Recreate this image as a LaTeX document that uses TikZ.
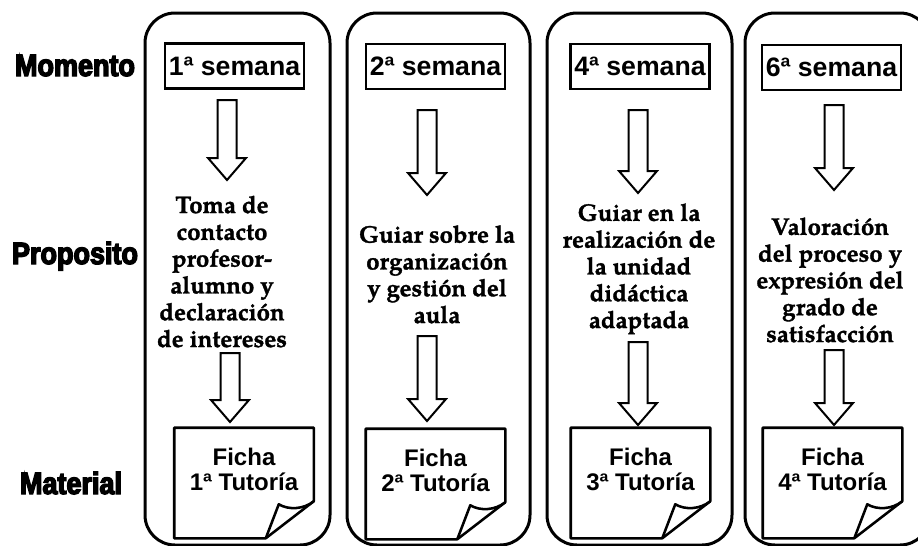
\documentclass[tikz,border=0pt]{standalone}
\usepackage{fontspec}
\setmainfont{Liberation Sans}
\newfontfamily\headfont{Liberation Sans}[FakeStretch=0.88,BoldFeatures={FakeBold=4.5}]
\newfontfamily\propfont{texgyrepagella-bold.otf}[FakeBold=1.3]
\usetikzlibrary{calc}

\newcommand{\hollowarrow}[2]{%
	\draw[hollow] ($(#1)+(-9.5,0)$) -- ($(#1)+(9.5,0)$) -- ($(#2)+(9.5,-22)$) -- ($(#2)+(19,-22)$) -- (#2) -- ($(#2)+(-19,-22)$) -- ($(#2)+(-9.5,-22)$) -- cycle;}
\newcommand{\fichasheet}[1]{%
	\draw[sheet] (#1.north west) -- (#1.north east) -- ($(#1.south east)+(0,-37)$) -- ($(#1.south east)+(-48,0)$) -- (#1.south west) -- cycle;
	\draw[sheet] ($(#1.south east)+(0,-37)$) .. controls ($(#1.south east)+(-10,-29)$) and ($(#1.south east)+(-25,-28)$) .. ($(#1.south east)+(-35,-34)$) -- ($(#1.south east)+(-48,0)$);}

\begin{document}
\begin{tikzpicture}[x=0.75pt,y=-0.75pt,
	tutbox/.style={draw, line width=2.25pt, rounded corners=22.5pt},
	week/.style={draw, line width=1.9pt, minimum width=104pt, minimum height=33.75pt, inner sep=0pt, font=\bfseries\fontsize{20}{24}\selectfont},
	hollow/.style={draw, line width=1.5pt, fill=white, line join=miter},
	sheet/.style={line width=1.9pt, line join=round},
	page/.style={minimum width=104.25pt, minimum height=82.5pt, inner sep=0pt},
	fichatext/.style={align=center, inner sep=0pt, font=\bfseries\fontsize{18}{18.75}\selectfont},
	purpose/.style={align=center, anchor=base, inner sep=0pt, font=\propfont\fontsize{18}{20.1}\selectfont},
	rowname/.style={anchor=base, inner sep=0pt, font=\headfont\bfseries\fontsize{23}{26}\selectfont}]
	\useasboundingbox (0,0) rectangle (918,546);
	\draw[tutbox] (145,13) rectangle (330,545);
	\draw[tutbox] (347,13) rectangle (530,545);
	\draw[tutbox] (547,13) rectangle (732,545);
	\draw[tutbox] (745,13) rectangle (930,545);
	\node[rowname] (momento) at (75,76) {Momento};
	\node[rowname] (proposito) at (75,264) {Proposito};
	\node[rowname] (material) at (71,494) {Material};
	\node[week] (w1) at (234.5,66) {1ª semana};
	\node[week] (w2) at (435.5,66.5) {2ª semana};
	\node[week] (w3) at (640,66.5) {4ª semana};
	\node[week] (w4) at (831.5,67.5) {6ª semana};
	\node[purpose] (p1) at (222,347) {Toma de\\contacto\\profesor-\\alumno y\\declaración\\de intereses};
	\node[purpose] (p2) at (437,323) {Guiar sobre la\\organización\\y gestión del\\aula};
	\node[purpose] (p3) at (639,328) {Guiar en la\\realización de\\la unidad\\didáctica\\adaptada};
	\node[purpose] (p4) at (830,342) {Valoración\\del proceso y\\expresión del\\grado de\\satisfacción};
	\node[page] (f1) at (244,483) {};
	\node[page] (f2) at (435.5,484) {};
	\node[page] (f3) at (640.5,483) {};
	\node[page] (f4) at (832.5,483) {};
	\fichasheet{f1}
	\fichasheet{f2}
	\fichasheet{f3}
	\fichasheet{f4}
	\node[fichatext] (t1) at ($(f1)+(0,-14)$) {Ficha\\1ª Tutoría};
	\node[fichatext] (t2) at ($(f2)+(0,-14)$) {Ficha\\2ª Tutoría};
	\node[fichatext] (t3) at ($(f3)+(0,-14)$) {Ficha\\3ª Tutoría};
	\node[fichatext] (t4) at ($(f4)+(0,-14)$) {Ficha\\4ª Tutoría};
	\coordinate (a1s) at (227,100); \coordinate (a1e) at (227,180);
	\coordinate (a2s) at (427,110); \coordinate (a2e) at (427,195);
	\coordinate (a3s) at (638,110); \coordinate (a3e) at (638,193);
	\coordinate (a4s) at (834,105); \coordinate (a4e) at (834,190);
	\coordinate (b1s) at (230,353); \coordinate (b1e) at (230,422);
	\coordinate (b2s) at (427,336); \coordinate (b2e) at (427,421);
	\coordinate (b3s) at (638,342); \coordinate (b3e) at (638,425);
	\coordinate (b4s) at (834,350); \coordinate (b4e) at (834,425);
	\hollowarrow{a1s}{a1e}
	\hollowarrow{a2s}{a2e}
	\hollowarrow{a3s}{a3e}
	\hollowarrow{a4s}{a4e}
	\hollowarrow{b1s}{b1e}
	\hollowarrow{b2s}{b2e}
	\hollowarrow{b3s}{b3e}
	\hollowarrow{b4s}{b4e}
\end{tikzpicture}
\end{document}
